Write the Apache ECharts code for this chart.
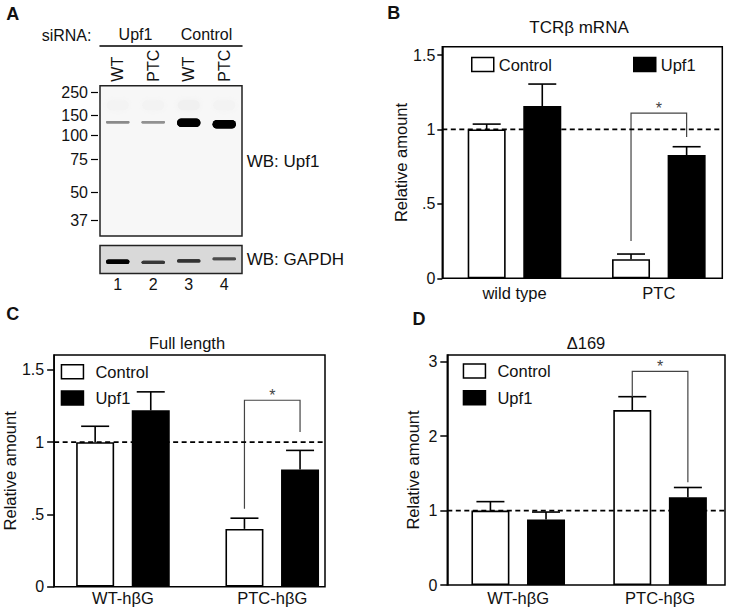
<!DOCTYPE html>
<html><head><meta charset="utf-8">
<script src="https://cdn.jsdelivr.net/npm/echarts@6/dist/echarts.min.js"></script>
<style>html,body{margin:0;padding:0;background:#fff}#c{width:731px;height:613px}</style>
</head><body><div id="c"></div>
<script>
// ---------- Panel A (western blot) ----------
const laneNumbers = ['1','2','3','4'];
const laneLabels = ['WT','PTC','WT','PTC'];
const sirnaGroups = ['Upf1','Control'];
const mwLabels = ['250','150','100','75','50','37'];
const mwMigration = [0.044,0.195,0.333,0.49,0.712,0.898];
const upf1BandMigration = [0.243,0.243,0.247,0.256];
const upf1BandIntensity = [0.45,0.42,1.0,1.0];
const upf1SmearMigration = [0.13,0.13,0.13,0.13];
const upf1SmearIntensity = [0.03,0.03,0.04,0.028];
const gapdhMigration = [0.58,0.6,0.55,0.48];
const gapdhIntensity = [1.0,0.78,0.8,0.7];

// ---------- Panel B ----------
const catsB = ['wild type','PTC'];
const controlB = [1.0,0.128];
const controlErrB = [0.036,0.035];
const upf1B = [1.157,0.828];
const upf1ErrB = [0.148,0.056];
const sigB = [1,0.25,1.11,0.95];
const yTicksB = [0,0.5,1,1.5];
const yTickLabelsB = ['0','.5','1','1.5'];

// ---------- Panel C ----------
const catsC = ['WT-hβG','PTC-hβG'];
const controlC = [1.0,0.40];
const controlErrC = [0.11,0.074];
const upf1C = [1.22,0.81];
const upf1ErrC = [0.128,0.133];
const sigC = [1,0.54,1.29,1.07];
const yTicksC = [0,0.5,1,1.5];
const yTickLabelsC = ['0','.5','1','1.5'];

// ---------- Panel D ----------
const catsD = ['WT-hβG','PTC-hβG'];
const controlD = [1.0,2.35];
const controlErrD = [0.12,0.18];
const upf1D = [0.88,1.18];
const upf1ErrD = [0.1,0.13];
const sigD = [1,2.53,2.87,1.38];
const yTicksD = [0,1,2,3];
const yTickLabelsD = ['0','1','2','3'];

const refLevel = 1;

const FONT = '"Liberation Sans", Arial, Helvetica, sans-serif';
const TXT = '#111';
const BAR_W = 38, BAR_GAP = 17.6;
const OFF = (BAR_W + BAR_GAP) / 2;

function nearestLabel(vals, labels){
  return function(v){ let k=0,b=1e9; vals.forEach((t,i)=>{const d=Math.abs(t-v); if(d<b){b=d;k=i;}}); return labels[k]; };
}
function bandRender(hBase, hGain, wFrac, blur){
  return function(params, api){
    const c = api.coord([api.value(0), api.value(1)]);
    const inten = api.value(2);
    const w = api.size([1,0])[0] * wFrac;
    const h = hBase + hGain * Math.pow(inten, 3);
    const g = Math.round(250 * (1 - inten));
    const col = 'rgb(' + g + ',' + g + ',' + g + ')';
    return {type:'rect', shape:{x:c[0]-w/2, y:c[1]-h/2, width:w, height:h, r:h/2},
      style:{fill:col, shadowBlur:blur, shadowColor:col}};
  };
}
function errRender(side){
  return function(params, api){
    const c = api.coord([api.value(0), api.value(1)]);
    const t = api.coord([api.value(0), api.value(1) + api.value(2)]);
    const x = c[0] + side * OFF;
    return {type:'group', children:[
      {type:'line', shape:{x1:x, y1:c[1], x2:x, y2:t[1]}, style:{stroke:'#000', lineWidth:1.6}},
      {type:'line', shape:{x1:x-14, y1:t[1], x2:x+14, y2:t[1]}, style:{stroke:'#000', lineWidth:1.6}}
    ]};
  };
}
function sigRender(params, api){
  const g = api.value(0);
  const a = api.coord([g, api.value(1)]);
  const top = api.coord([g, api.value(2)]);
  const b = api.coord([g, api.value(3)]);
  const xl = a[0] - OFF, xr = a[0] + OFF;
  return {type:'group', children:[
    {type:'polyline', shape:{points:[[xl,a[1]],[xl,top[1]],[xr,top[1]],[xr,b[1]]]},
      style:{stroke:'#444', lineWidth:1.2, fill:'none'}},
    {type:'text', x:(xl+xr)/2, y:top[1]+3,
      style:{text:'*', fill:'#444', font:'16px ' + FONT, textAlign:'center', textVerticalAlign:'bottom', align:'center', verticalAlign:'bottom'}}
  ]};
}

function frameY(gridIndex, max, ticks, labels, tickLen, margin, nameGap){
  return {gridIndex, type:'value', min:0, max:max, position:'left',
    name:'Relative amount', nameLocation:'middle', nameGap:nameGap,
    nameTextStyle:{fontSize:16.5, color:TXT, fontFamily:FONT},
    axisLine:{show:true, lineStyle:{color:'#000', width:1.5}},
    axisTick:{show:true, length:tickLen, customValues:ticks, lineStyle:{color:'#000', width:1.5}},
    axisLabel:{show:true, customValues:ticks, margin:margin, fontSize:16, color:TXT, fontFamily:FONT,
      formatter:nearestLabel(ticks, labels)},
    splitLine:{show:false}};
}
function hiddenY(gridIndex, max){ return {gridIndex, type:'value', min:0, max:max, show:false}; }
function hiddenXVal(gridIndex){ return {gridIndex, type:'value', min:0, max:1, show:false}; }
function catX(gridIndex, cats, margin){
  return {gridIndex, type:'category', data:cats, position:'bottom',
    axisLine:{show:false}, axisTick:{show:false},
    axisLabel:{interval:0, margin:margin, fontSize:16.5, color:TXT, fontFamily:FONT}};
}
function panelSeries(fx, fy, px, py, control, controlErr, upf1, upf1Err, sig){
  return [
    {type:'line', xAxisIndex:fx, yAxisIndex:fy, data:[[0,refLevel],[1,refLevel]], symbol:'none', silent:true, z:5,
      lineStyle:{color:'#000', width:1.7, type:[5,3.5]}},
    {type:'bar', name:'Control', xAxisIndex:px, yAxisIndex:py, data:control, barWidth:BAR_W, barGap:(BAR_GAP/BAR_W*100)+'%',
      itemStyle:{color:'#fff', borderColor:'#000', borderWidth:1.6}, emphasis:{disabled:true}, z:2},
    {type:'bar', name:'Upf1', xAxisIndex:px, yAxisIndex:py, data:upf1, barWidth:BAR_W,
      itemStyle:{color:'#000', borderColor:'#000', borderWidth:1.6}, emphasis:{disabled:true}, z:2},
    {type:'custom', xAxisIndex:px, yAxisIndex:py, renderItem:errRender(-1), clip:false, silent:true, z:3,
      data:control.map((v,i)=>[i, v, controlErr[i]])},
    {type:'custom', xAxisIndex:px, yAxisIndex:py, renderItem:errRender(1), clip:false, silent:true, z:3,
      data:upf1.map((v,i)=>[i, v, upf1Err[i]])},
    {type:'custom', xAxisIndex:px, yAxisIndex:py, renderItem:sigRender, clip:false, silent:true, z:4,
      data:[sig]}
  ];
}
function leg(name, left, top, fill, pad){
  return {left:left, top:top, padding:0, selectedMode:false, itemWidth:22, itemHeight:14, icon:'rect',
    textStyle:{fontSize:16.5, color:TXT, fontFamily:FONT, padding:[0,0,0,pad]},
    data:[{name:name, icon:'rect', itemStyle:{color:fill, borderColor:'#000', borderWidth:1.5}}]};
}
function txt(text, x, y, size, align, weight){
  return {type:'text', x:x, y:y, silent:true,
    style:{text:text, fill:TXT, font:(weight||'normal') + ' ' + size + 'px ' + FONT,
      textAlign:align, textVerticalAlign:'middle', align:align, verticalAlign:'middle'}};
}

const chart = echarts.init(document.getElementById('c'), null, {renderer:'svg', width:731, height:613});

const option = {
  animation:false,
  backgroundColor:'#fff',
  textStyle:{fontFamily:FONT},
  grid:[
    {left:100, top:85.7, width:142, height:150.3, show:true, borderColor:'#222', borderWidth:1.5, backgroundColor:'#f7f7f7'},
    {left:100, top:245.5, width:142, height:28, show:true, borderColor:'#222', borderWidth:1.5, backgroundColor:'#d9d9d9'},
    {left:442.3, top:46.7, width:280, height:231.6, show:true, borderColor:'#000', borderWidth:1.5},
    {left:442.3, top:46.7, width:301, height:231.6},
    {left:48.3, top:355, width:276.7, height:231.7, show:true, borderColor:'#000', borderWidth:1.5},
    {left:48.3, top:355, width:298.6, height:231.7},
    {left:447.3, top:355, width:277.7, height:230, show:true, borderColor:'#000', borderWidth:1.5},
    {left:447.3, top:355, width:300, height:230}
  ],
  xAxis:[
    {gridIndex:0, type:'category', data:laneLabels, position:'top',
      axisLine:{show:false}, axisTick:{show:false},
      axisLabel:{interval:0, rotate:90, margin:4, fontSize:16, color:TXT, fontFamily:FONT}},
    {gridIndex:0, type:'category', data:sirnaGroups, position:'top', offset:39.7,
      axisLine:{show:true, lineStyle:{color:'#000', width:1.5}}, axisTick:{show:false},
      axisLabel:{interval:0, margin:4, fontSize:16, color:TXT, fontFamily:FONT}},
    {gridIndex:1, type:'category', data:laneNumbers, position:'bottom',
      axisLine:{show:false}, axisTick:{show:false},
      axisLabel:{interval:0, margin:3, fontSize:16, color:TXT, fontFamily:FONT}},
    hiddenXVal(2),
    catX(3, catsB, 6),
    hiddenXVal(4),
    catX(5, catsC, 3),
    hiddenXVal(6),
    catX(7, catsD, 4)
  ],
  yAxis:[
    {gridIndex:0, type:'value', min:0, max:1, inverse:true, position:'left', offset:2,
      axisLine:{show:false},
      axisTick:{show:true, length:7, customValues:mwMigration, lineStyle:{color:'#000', width:1.2}},
      axisLabel:{show:true, customValues:mwMigration, margin:10, fontSize:16, color:TXT, fontFamily:FONT,
        formatter:nearestLabel(mwMigration, mwLabels)},
      splitLine:{show:false}},
    {gridIndex:1, type:'value', min:0, max:1, inverse:true, show:false},
    frameY(2, 1.556, yTicksB, yTickLabelsB, 5, 7, 24),
    hiddenY(3, 1.556),
    frameY(4, 1.603, yTicksC, yTickLabelsC, 7, 10, 25),
    hiddenY(5, 1.603),
    frameY(6, 3.09, yTicksD, yTickLabelsD, 7, 10, 26),
    hiddenY(7, 3.09)
  ],
  legend:[
    leg('Control', 471, 56, '#fff', 0),
    leg('Upf1', 633, 56, '#000', 0),
    leg('Control', 60.7, 363.2, '#fff', 7),
    leg('Upf1', 60.7, 389.5, '#000', 7),
    leg('Control', 462.7, 362.5, '#fff', 7),
    leg('Upf1', 462.7, 389.2, '#000', 7)
  ],
  graphic:[
    txt('A', 12.8, 13.7, 18, 'center', 'bold'),
    txt('B', 393.8, 12.8, 18, 'center', 'bold'),
    txt('C', 12.8, 313.7, 18, 'center', 'bold'),
    txt('D', 419, 319, 18, 'center', 'bold'),
    txt('siRNA:', 41.7, 35, 16, 'left'),
    txt('WB: Upf1', 246.7, 161.7, 17, 'left'),
    txt('WB: GAPDH', 246.7, 259.3, 17, 'left'),
    txt('TCRβ mRNA', 579, 27, 17, 'center'),
    txt('Full length', 187, 342.5, 16.5, 'center'),
    txt('Δ169', 586, 343, 16.5, 'center')
  ],
  series:[
    {type:'custom', xAxisIndex:0, yAxisIndex:0, renderItem:bandRender(10, 0, 0.62, 6), silent:true,
      data:laneNumbers.map((_,i)=>[i, upf1SmearMigration[i], upf1SmearIntensity[i]])},
    {type:'custom', xAxisIndex:0, yAxisIndex:0, renderItem:bandRender(2, 6.5, 0.66, 1.5), silent:true,
      data:laneNumbers.map((_,i)=>[i, upf1BandMigration[i], upf1BandIntensity[i]])},
    {type:'custom', xAxisIndex:2, yAxisIndex:1, renderItem:bandRender(2, 2.5, 0.66, 1.5), silent:true,
      data:laneNumbers.map((_,i)=>[i, gapdhMigration[i], gapdhIntensity[i]])},
    ...panelSeries(3, 2, 4, 3, controlB, controlErrB, upf1B, upf1ErrB, sigB),
    ...panelSeries(5, 4, 6, 5, controlC, controlErrC, upf1C, upf1ErrC, sigC),
    ...panelSeries(7, 6, 8, 7, controlD, controlErrD, upf1D, upf1ErrD, sigD)
  ]
};
chart.setOption(option);
</script>
</body></html>
